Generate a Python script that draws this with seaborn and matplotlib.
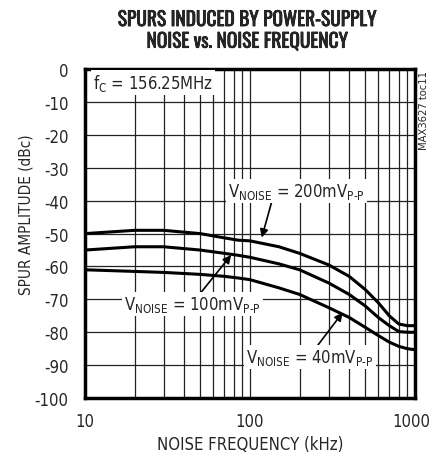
# spur amplitude vs noise frequency, three noise levels
import matplotlib
matplotlib.use("Agg")
import matplotlib.pyplot as plt
import matplotlib.transforms as mtransforms
import matplotlib.patheffects as pe
import seaborn as sns
import pandas as pd
from matplotlib.ticker import FixedLocator, NullFormatter

# data
freq_khz = [10, 20, 30, 50, 70, 85, 100, 150, 200, 300, 400, 500, 600, 700, 800, 900, 1000]
spur_200mv = [-50, -49, -49, -50, -51.3, -52, -52.2, -54, -56, -59.5, -63, -67, -71, -75, -77.5, -78, -78]
spur_100mv = [-55, -54, -54, -55, -56, -56.6, -57.2, -59.2, -61, -65, -68.5, -72, -75.5, -78, -79.8, -80, -80]
spur_40mv = [-61, -61.5, -61.8, -62.4, -63, -63.5, -64, -66.5, -68.5, -72.5, -75.5, -78.5, -81, -83, -84.3, -85, -85.3]
series_names = ["200mV", "100mV", "40mV"]

df = pd.DataFrame({"freq": freq_khz * 3,
                   "spur": spur_200mv + spur_100mv + spur_40mv,
                   "series": sum([[s] * len(freq_khz) for s in series_names], [])})

sns.set_style("white")
plt.rcParams['font.family'] = ['DejaVu Sans']
plt.rcParams['font.stretch'] = 'condensed'
plt.rcParams['axes.unicode_minus'] = False
plt.rcParams['mathtext.fontset'] = 'custom'
plt.rcParams['mathtext.rm'] = 'DejaVu Sans:stretch=condensed'
plt.rcParams['mathtext.default'] = 'rm'

fig = plt.figure(figsize=(4.29, 4.56), dpi=100)
ax = fig.add_axes([0.198, 0.125, 0.769, 0.721])

sns.lineplot(data=df, x="freq", y="spur", hue="series", palette=["black"] * 3,
             linewidth=2.2, legend=False, ax=ax, zorder=3)

ax.set_xscale("log")
ax.set_xlim(10, 1000)
ax.set_ylim(-100, 0)
ax.xaxis.set_major_locator(FixedLocator([10, 100, 1000]))
ax.xaxis.set_minor_locator(FixedLocator([20, 30, 40, 50, 60, 70, 80, 90,
                                         200, 300, 400, 500, 600, 700, 800, 900]))
ax.xaxis.set_minor_formatter(NullFormatter())
ax.set_xticklabels(["10", "100", "1000"])
ax.set_yticks(range(-100, 1, 10))
ax.grid(True, which="both", color="#222222", linewidth=0.9)
ax.tick_params(length=0, labelsize=12)
ax.tick_params(axis="y", pad=12)
ax.tick_params(axis="x", pad=10)
# keep "1000" inside the figure
last = ax.get_xticklabels()[-1]
last.set_transform(last.get_transform() + mtransforms.ScaledTranslation(-4 / 100, 0, fig.dpi_scale_trans))
for sp in ax.spines.values():
    sp.set_linewidth(2.5)
    sp.set_color("black")

ax.set_xlabel("NOISE FREQUENCY (kHz)", fontsize=12, labelpad=4)
ax.set_ylabel("SPUR AMPLITUDE (dBc)", fontsize=11, labelpad=8)
ax.yaxis.set_label_coords(-0.155, 0.56)
fig.text(0.577, 0.978, "SPURS INDUCED BY POWER-SUPPLY\nNOISE vs. NOISE FREQUENCY",
         ha="center", va="top", fontsize=14, fontweight="bold", linespacing=1.1,
         family=['Oswald', 'Roboto Condensed', 'Barlow Condensed', 'Encode Sans Condensed', 'DejaVu Sans'],
         path_effects=[pe.withStroke(linewidth=0.5, foreground="black")])
fig.text(0.988, 0.757, "MAX3627 toc11", rotation=90, fontsize=8, ha="center", va="center")

box = dict(facecolor="white", edgecolor="none", pad=1.5)
ax.text(11.2, -4, r"f$_C$ = 156.25MHz", fontsize=12, va="center", ha="left", bbox=box, zorder=4)

ax.annotate(r"V$_{NOISE}$ = 200mV$_{P\text{-}P}$", xy=(118, -51.2), xytext=(192, -37),
            fontsize=12, ha="center", va="center", bbox=box, zorder=4,
            arrowprops=dict(arrowstyle="-|>", color="black", lw=1.2, shrinkA=0, shrinkB=0,
                            relpos=(0.32, 0.0)))
ax.annotate(r"V$_{NOISE}$ = 100mV$_{P\text{-}P}$", xy=(77, -56.5), xytext=(45, -71.5),
            fontsize=12, ha="center", va="center", bbox=box, zorder=4,
            arrowprops=dict(arrowstyle="-|>", color="black", lw=1.2, shrinkA=0, shrinkB=0,
                            relpos=(0.55, 1.0)))
ax.annotate(r"V$_{NOISE}$ = 40mV$_{P\text{-}P}$", xy=(365, -74), xytext=(232, -87.5),
            fontsize=12, ha="center", va="center", bbox=box, zorder=4,
            arrowprops=dict(arrowstyle="-|>", color="black", lw=1.2, shrinkA=0, shrinkB=0,
                            relpos=(0.55, 1.0)))

plt.savefig("out.png", dpi=100)
